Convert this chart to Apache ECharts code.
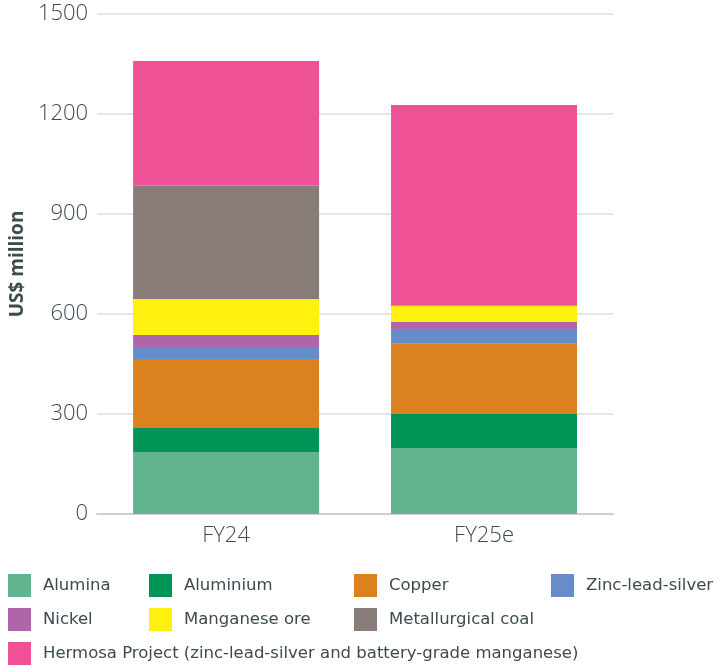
<!DOCTYPE html>
<html><head><meta charset="utf-8">
<script src="https://cdn.jsdelivr.net/npm/echarts@6/dist/echarts.min.js"></script>
<style>html,body{margin:0;padding:0;background:#fff}#c{width:716px;height:667px}</style>
</head><body><div id="c"></div>
<script>
const categories = ['FY24', 'FY25e'];
const seriesNames = ['Alumina','Aluminium','Copper','Zinc-lead-silver','Nickel','Manganese ore','Metallurgical coal','Hermosa Project (zinc-lead-silver and battery-grade manganese)'];
const alumina = [186, 198];
const aluminium = [72, 102];
const copper = [207, 211];
const zincLeadSilver = [36, 44];
const nickel = [36, 21];
const manganeseOre = [108, 49];
const metallurgicalCoal = [340, 0];
const hermosa = [374, 602];
const yTicks = [0, 300, 600, 900, 1200, 1500];
const colors = ['#62b490','#009456','#db821e','#668dc7','#af65ab','#fff10f','#877c77','#ef5196'];
const values = [alumina, aluminium, copper, zincLeadSilver, nickel, manganeseOre, metallurgicalCoal, hermosa];

const font = 'Open Sans';
const legendFont = '"DejaVu Sans"';
const txt = '#3d4a50';
const legendPos = [
  [8,574],[149,574],[354,574],[551,574],
  [8,608],[149,608],[354,608],
  [8,642]
];
const legends = seriesNames.map((n,i)=>({
  data:[n], left:legendPos[i][0], top:legendPos[i][1], orient:'horizontal',
  icon:'rect', itemWidth:23, itemHeight:23, itemGap:0, padding:0,
  textStyle:{fontFamily:legendFont, fontSize:16.5, fontWeight:'normal', color:txt, padding:[0,0,0,7]},
  selectedMode:false
}));

const chart = echarts.init(document.getElementById('c'), null, {renderer:'canvas'});
chart.setOption({
  animation:false,
  color:colors,
  grid:{left:97, right:103, top:14, bottom:153},
  legend:legends,
  xAxis:{type:'category', data:categories,
    axisLine:{show:true, lineStyle:{color:'#cfcfcf', width:2}},
    axisTick:{show:false},
    axisLabel:{fontFamily:font, fontSize:22, fontWeight:300, color:txt, margin:11}},
  yAxis:{type:'value', min:yTicks[0], max:yTicks[yTicks.length-1], interval:300,
    name:'US$ million', nameLocation:'middle', nameGap:65, nameRotate:90,
    nameTextStyle:{fontFamily:font, fontSize:19, fontWeight:'bold', color:txt},
    axisLine:{show:false}, axisTick:{show:false},
    splitLine:{lineStyle:{color:'#dcdcdc', width:1.5}},
    axisLabel:{fontFamily:font, fontSize:22, fontWeight:300, color:txt, margin:9,
      formatter:v=>String(v)}},
  series:seriesNames.map((n,i)=>({
    name:n, type:'bar', stack:'a', data:values[i], barWidth:186,
    itemStyle:{color:colors[i]}
  }))
});
</script></body></html>
